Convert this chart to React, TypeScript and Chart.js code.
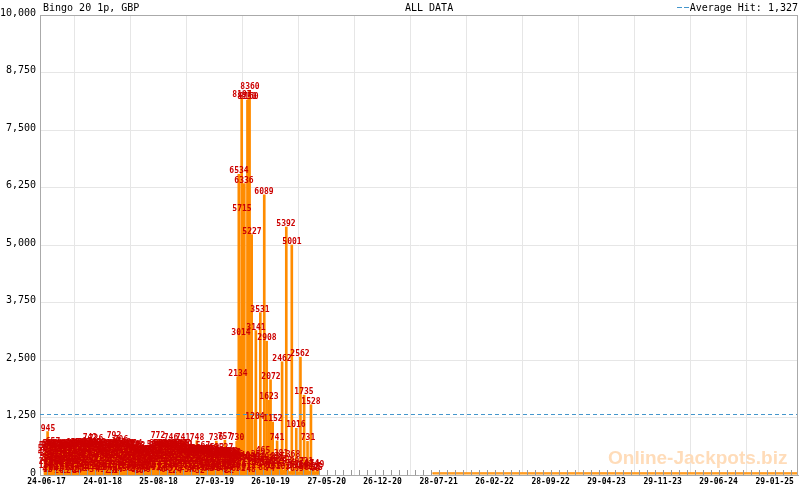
import React, { useEffect, useRef } from "react";
import { Chart, registerables } from "chart.js";
Chart.register(...registerables);

// ---------- text ----------
const TITLE_LEFT = "Bingo 20 1p, GBP";
const TITLE_CENTER = "ALL DATA";
const AVERAGE_HIT = 1327;
const WATERMARK = "Online-Jackpots.biz";

// ---------- axes ----------
const START_DATE = "2017-06-24"; // day 0 of the data
const X_START = "2017-05-30";
const X_END = "2025-04-28";
const xTickLabels = [
  "24-06-17", "24-01-18", "25-08-18", "27-03-19", "26-10-19", "27-05-20", "26-12-20",
  "28-07-21", "26-02-22", "28-09-22", "29-04-23", "29-11-23", "29-06-24", "29-01-25",
];
const yTicks = [0, 1250, 2500, 3750, 5000, 6250, 7500, 8750, 10000];

// ---------- data (days after START_DATE, hit value in GBP) ----------
const earlyDays = [
  -6, -4, -1, 2, 4, 7, 10, 13, 16, 19, 22, 24, 27, 31, 35, 38, 42, 46, 50, 53, 57, 61, 65, 68, 72, 74, 76,
  80, 84, 87, 91, 95, 99, 102, 106, 110, 114, 117, 121, 125, 129, 132, 136, 140, 144, 147, 151, 155, 159, 162, 165, 169, 173, 177, 180, 184, 188, 190, 195, 199, 203,
  207, 211, 214, 218, 222, 226, 229, 233, 237, 241, 244, 248, 252, 255, 258, 262, 266, 270, 273, 277, 282, 285, 289, 293, 296, 300, 304, 308, 311, 315, 319, 323, 326, 330, 334, 338, 341, 345, 349, 352,
  356, 360, 363, 367, 371, 375, 378, 382, 386, 390, 393, 397, 401, 405,
  408, 412, 416, 420, 425, 428, 431, 435, 439, 443, 446, 450, 454, 458, 461, 465, 469, 474, 477, 480, 484, 488, 492, 495, 499, 503, 507, 510, 514, 520, 522, 526, 530, 534,
  537, 541, 545, 549, 552, 556, 560, 564, 567, 573, 575, 579, 582, 586, 590, 594, 598, 601, 605, 609, 613, 616, 620, 624, 628, 631, 635,
  639, 643, 647, 651, 654, 658, 662, 666, 669, 673, 677, 680, 684, 688, 692, 695, 699, 703, 707, 710, 714, 718, 721, 725,
];
const earlyValues = [
  412, 138, 560, 287, 945, 35, 603, 471, 196, 334, 582, 657, 92, 248, 519, 376, 61, 595, 302, 444, 157, 588, 226, 493, 364, 12, 541,
  268, 612, 433, 85, 574, 321, 637, 178, 509, 392, 26, 628, 255, 466, 599, 141, 357, 641, 73, 488, 615, 230, 547, 742, 309, 624, 118, 453, 586, 201, 726, 398, 633, 49,
  521, 286, 604, 163, 437, 579, 94, 350, 618, 472, 215, 566, 31, 401, 792, 597, 274, 512, 146, 608, 706, 383, 55, 549, 620, 239, 461, 587, 128, 332, 601, 415, 67, 558, 296, 604, 183, 489, 572, 20,
  347, 476, 112, 421, 263, 468, 39, 384, 452, 198, 480, 305, 77, 439,
  584, 251, 609, 372, 772, 143, 527, 598, 318, 58, 456, 611, 207, 543, 392, 603, 87, 746, 281, 575, 436, 169, 592, 338, 24, 517, 607, 226, 481, 741, 362, 589, 135, 503,
  268, 487, 152, 409, 479, 46, 331, 492, 213, 748, 441, 118, 486, 377, 259, 473, 567, 92, 428, 489, 187, 356, 482, 63, 447, 294, 471,
  162, 423, 736, 532, 81, 398, 271, 431, 140, 367, 419, 757, 527, 33, 412, 226, 389, 428, 104, 305, 421, 187, 376, 730,
];
const earlyDays2 = [
  -5, -2, 1, 3, 6, 9, 12, 15, 18, 21, 26, 29, 33, 37, 40, 44, 48, 52, 55, 59, 63, 67, 70, 73, 78,
  82, 86, 89, 93, 97, 101, 104, 108, 112, 116, 119, 123, 127, 131, 134, 138, 142, 146, 149, 153, 157, 161, 164, 167, 171, 175, 179, 182, 186, 192, 197, 201, 205,
  209, 213, 216, 220, 224, 228, 231, 235, 239, 243, 246, 250, 254, 257, 260, 264, 268, 272, 275, 279, 284, 287, 291, 295, 298, 302, 306, 310, 313, 317, 321, 325, 328, 332, 336, 340, 343, 347, 351, 354,
  358, 362, 365, 369, 373, 377, 380, 384, 388, 392, 395, 399, 403,
  410, 414, 418, 422, 427, 430, 433, 437, 441, 445, 448, 452, 456, 460, 463, 467, 471, 476, 479, 482, 486, 490, 494, 497, 501, 505, 509, 512, 516, 518, 524, 528, 532,
  539, 543, 547, 551, 554, 558, 562, 566, 570, 577, 581, 584, 588, 592, 596, 600, 603, 607, 611, 615, 618, 622, 626, 630, 633,
  637, 641, 645, 649, 653, 656, 660, 664, 668, 671, 675, 679, 682, 686, 690, 694, 697, 701, 705, 709, 712, 716, 720, 723,
];
const earlyValues2 = [
  503, 221, 389, 47, 576, 312, 148, 598, 265, 431, 83, 547, 362, 609, 190, 478, 26, 571, 339, 117, 603, 254, 452, 586, 176,
  542, 97, 361, 619, 245, 482, 42, 596, 327, 153, 578, 410, 226, 631, 68, 519, 294, 455, 607, 183, 376, 644, 111, 493, 252, 582, 418, 37, 622, 279, 541, 163, 468,
  372, 569, 88, 493, 236, 611, 402, 159, 547, 29, 384, 602, 271, 498, 137, 574, 343, 46, 624, 215, 452, 588, 309, 104, 531, 415, 196, 612, 358, 72, 496, 254, 589, 167, 433, 52, 546, 318, 121, 467,
  188, 407, 463, 72, 354, 229, 445, 161, 478, 316, 94, 427, 251,
  336, 482, 91, 558, 214, 603, 397, 46, 571, 268, 512, 134, 421, 597, 63, 348, 586, 192, 469, 27, 611, 303, 407, 558, 179, 434, 82, 521, 356, 598, 240, 445, 591,
  418, 53, 461, 227, 339, 490, 132, 385, 474, 281, 468, 32, 398, 180, 452, 311, 488, 237, 64, 421, 352, 176, 493, 270, 107,
  354, 89, 408, 261, 425, 173, 342, 56, 389, 430, 214, 118, 402, 296, 154, 433, 21, 361, 247, 417, 128, 395, 283, 62,
];
const smallDays = [
  728, 735, 739, 743, 750, 754, 762, 769, 772, 777, 781, 788, 792, 796, 803, 807, 811, 820, 824, 826,
  833, 842, 845, 851, 857, 863, 868, 873, 883, 888, 894, 902, 910, 919, 928, 940, 946, 956, 961, 974,
  979, 988, 991, 1001, 1012, 1018, 1023, 1030, 1036,
];
const smallValues = [
  318, 156, 287, 62, 340, 211, 97, 305, 174, 263, 48, 331, 129, 276, 193, 362, 312, 245, 88, 465,
  167, 298, 198, 74, 226, 141, 139, 282, 335, 215, 381, 102, 248, 176, 76, 368, 133, 207, 59, 163,
  98, 221, 142, 81, 174, 115, 66, 149, 95,
];
const peakDays = [
  729, 733, 741, 744, 747, 754, 766, 770, 774, 782, 794, 798, 815, 830,
  839, 848, 854, 862, 879, 898, 914, 935, 952, 968, 982, 995, 1008,
];
const peakValues = [
  2134, 6534, 3014, 8197, 5715, 6336, 8150, 8160, 8360, 5227, 1204, 3141, 3531, 6089,
  2908, 1623, 2072, 1152, 741, 2462, 5392, 5001, 1016, 2562, 1735, 731, 1528,
];
// tiny hits from mid-2021 onwards (drawn as a flat band, unlabelled)
const lowDays = [1474, 2402, 2866];
const lowValues = [15, 45, 45];

// ---------- helpers ----------
const DAY = 86400000;
const parseIso = (s: string) => {
  const [y, m, d] = s.split("-").map(Number);
  return Date.UTC(y, m - 1, d);
};
const startMs = parseIso(START_DATE);
const toDay = (iso: string) => Math.round((parseIso(iso) - startMs) / DAY);
const tickDays = xTickLabels.map((l) => {
  const [d, m, y] = l.split("-").map(Number);
  return Math.round((Date.UTC(2000 + y, m - 1, d) - startMs) / DAY);
});
const pairs = (xs: number[], ys: number[]) => xs.map((x, i) => ({ x, y: ys[i] }));

const MONO = '"DejaVu Sans Mono", monospace';

const overlayPlugin = {
  id: "overlay",
  beforeDatasetsDraw(chart: any) {
    const { ctx } = chart;
    ctx.save();
    ctx.font = 'bold 19px "Liberation Sans", Arial, sans-serif';
    ctx.fillStyle = "#ffdcb9";
    ctx.textAlign = "left";
    ctx.textBaseline = "alphabetic";
    ctx.fillText(WATERMARK, 608, 464);
    ctx.restore();
  },
  afterDatasetsDraw(chart: any) {
    const { ctx, chartArea, scales } = chart;
    ctx.save();
    // average line
    const ay = Math.round(scales.y.getPixelForValue(AVERAGE_HIT)) + 0.5;
    ctx.strokeStyle = "#4496cc";
    ctx.lineWidth = 1;
    ctx.setLineDash([4, 3]);
    ctx.beginPath();
    ctx.moveTo(chartArea.left, ay);
    ctx.lineTo(chartArea.right, ay);
    ctx.stroke();
    ctx.setLineDash([]);
    // value labels
    ctx.font = `bold 8px ${MONO}`;
    ctx.fillStyle = "#cc0000";
    ctx.textAlign = "center";
    ctx.textBaseline = "alphabetic";
    chart.data.datasets.forEach((ds: any, i: number) => {
      if (!ds.showValues) return;
      const meta = chart.getDatasetMeta(i);
      meta.data.forEach((el: any, j: number) => {
        ctx.fillText(String(ds.data[j].y), Math.round(el.x), Math.round(el.y) - 1);
      });
    });
    ctx.restore();
  },
  afterDraw(chart: any) {
    const { ctx, chartArea, scales } = chart;
    const { left, right, top, bottom } = chartArea;
    ctx.save();
    // frame top / right
    ctx.strokeStyle = "#aaa";
    ctx.lineWidth = 1;
    ctx.beginPath();
    ctx.moveTo(left, top + 0.5);
    ctx.lineTo(right, top + 0.5);
    ctx.moveTo(right - 0.5, top);
    ctx.lineTo(right - 0.5, bottom);
    ctx.stroke();
    // minor ticks (7 per major interval)
    const xs = scales.x;
    const step = (tickDays[tickDays.length - 1] - tickDays[0]) / (tickDays.length - 1);
    ctx.strokeStyle = "#999";
    ctx.beginPath();
    for (let i = -1; i < tickDays.length; i++) {
      const a = i < 0 ? tickDays[0] - step : tickDays[i];
      const b = i + 1 < tickDays.length ? tickDays[i + 1] : a + step;
      for (let k = 0; k < 7; k++) {
        const px = xs.getPixelForValue(a + ((b - a) * k) / 7);
        if (px < left || px > right) continue;
        const rx = Math.round(px) + 0.5;
        ctx.moveTo(rx, bottom - 5);
        ctx.lineTo(rx, bottom);
      }
    }
    ctx.stroke();
    // header
    ctx.font = `10px ${MONO}`;
    ctx.fillStyle = "#000";
    ctx.textBaseline = "alphabetic";
    ctx.textAlign = "left";
    ctx.fillText(TITLE_LEFT, 43, 11);
    ctx.fillText(TITLE_CENTER, 405, 11);
    ctx.textAlign = "right";
    ctx.fillText(`Average Hit: ${AVERAGE_HIT.toLocaleString("en-US")}`, 798, 11);
    ctx.fillStyle = "#4496cc";
    ctx.fillRect(677, 7, 5, 1);
    ctx.fillRect(684, 7, 5, 1);
    ctx.restore();
  },
};

export default function App() {
  const ref = useRef<HTMLCanvasElement>(null);
  useEffect(() => {
    const hits = [
      ...pairs(earlyDays, earlyValues),
      ...pairs(earlyDays2, earlyValues2),
      ...pairs(smallDays, smallValues),
      ...pairs(peakDays, peakValues),
    ];
    const chart = new Chart(ref.current as HTMLCanvasElement, {
      type: "bar",
      data: {
        datasets: [
          {
            type: "bar",
            data: hits as any,
            backgroundColor: "#ff8c00",
            borderWidth: 0,
            barThickness: 2,
            showValues: true,
          } as any,
          {
            type: "line",
            data: pairs(lowDays, lowValues) as any,
            stepped: "after",
            borderColor: "#ff8c00",
            borderWidth: 1.5,
            backgroundColor: "#ffcc88",
            fill: "origin",
            pointRadius: 0,
          } as any,
        ],
      },
      options: {
        animation: false,
        responsive: false,
        devicePixelRatio: 1,
        layout: { padding: { top: 15, right: 2, left: 0, bottom: 0 } },
        plugins: {
          legend: { display: false },
          tooltip: { enabled: false },
        },
        scales: {
          x: {
            type: "linear",
            min: toDay(X_START),
            max: toDay(X_END),
            offset: false,
            afterBuildTicks: (s: any) => {
              s.ticks = tickDays.map((v) => ({ value: v }));
            },
            afterFit: (s: any) => {
              s.height = 15;
            },
            ticks: {
              autoSkip: false,
              maxRotation: 0,
              padding: 2,
              color: "#000",
              font: { family: MONO, size: 8, weight: "bold" },
              callback: (_v: any, i: number) => xTickLabels[i],
            },
            grid: { color: "#e6e6e6", drawTicks: false },
            border: { color: "#aaa" },
          },
          y: {
            min: 0,
            max: 10000,
            afterBuildTicks: (s: any) => {
              s.ticks = yTicks.map((v) => ({ value: v }));
            },
            afterFit: (s: any) => {
              s.width = 40;
            },
            ticks: {
              padding: 4,
              labelOffset: -2,
              color: "#000",
              font: { family: MONO, size: 10 },
              callback: (v: any) => Number(v).toLocaleString("en-US"),
            },
            grid: { color: "#e6e6e6", drawTicks: false },
            border: { color: "#aaa" },
          },
        },
      } as any,
      plugins: [overlayPlugin],
    });
    return () => chart.destroy();
  }, []);
  return (
    <div style={{ position: "absolute", left: 0, top: 0, width: 800, height: 490, background: "#fff" }}>
      <canvas ref={ref} width={800} height={490} style={{ display: "block", width: 800, height: 490 }} />
    </div>
  );
}
